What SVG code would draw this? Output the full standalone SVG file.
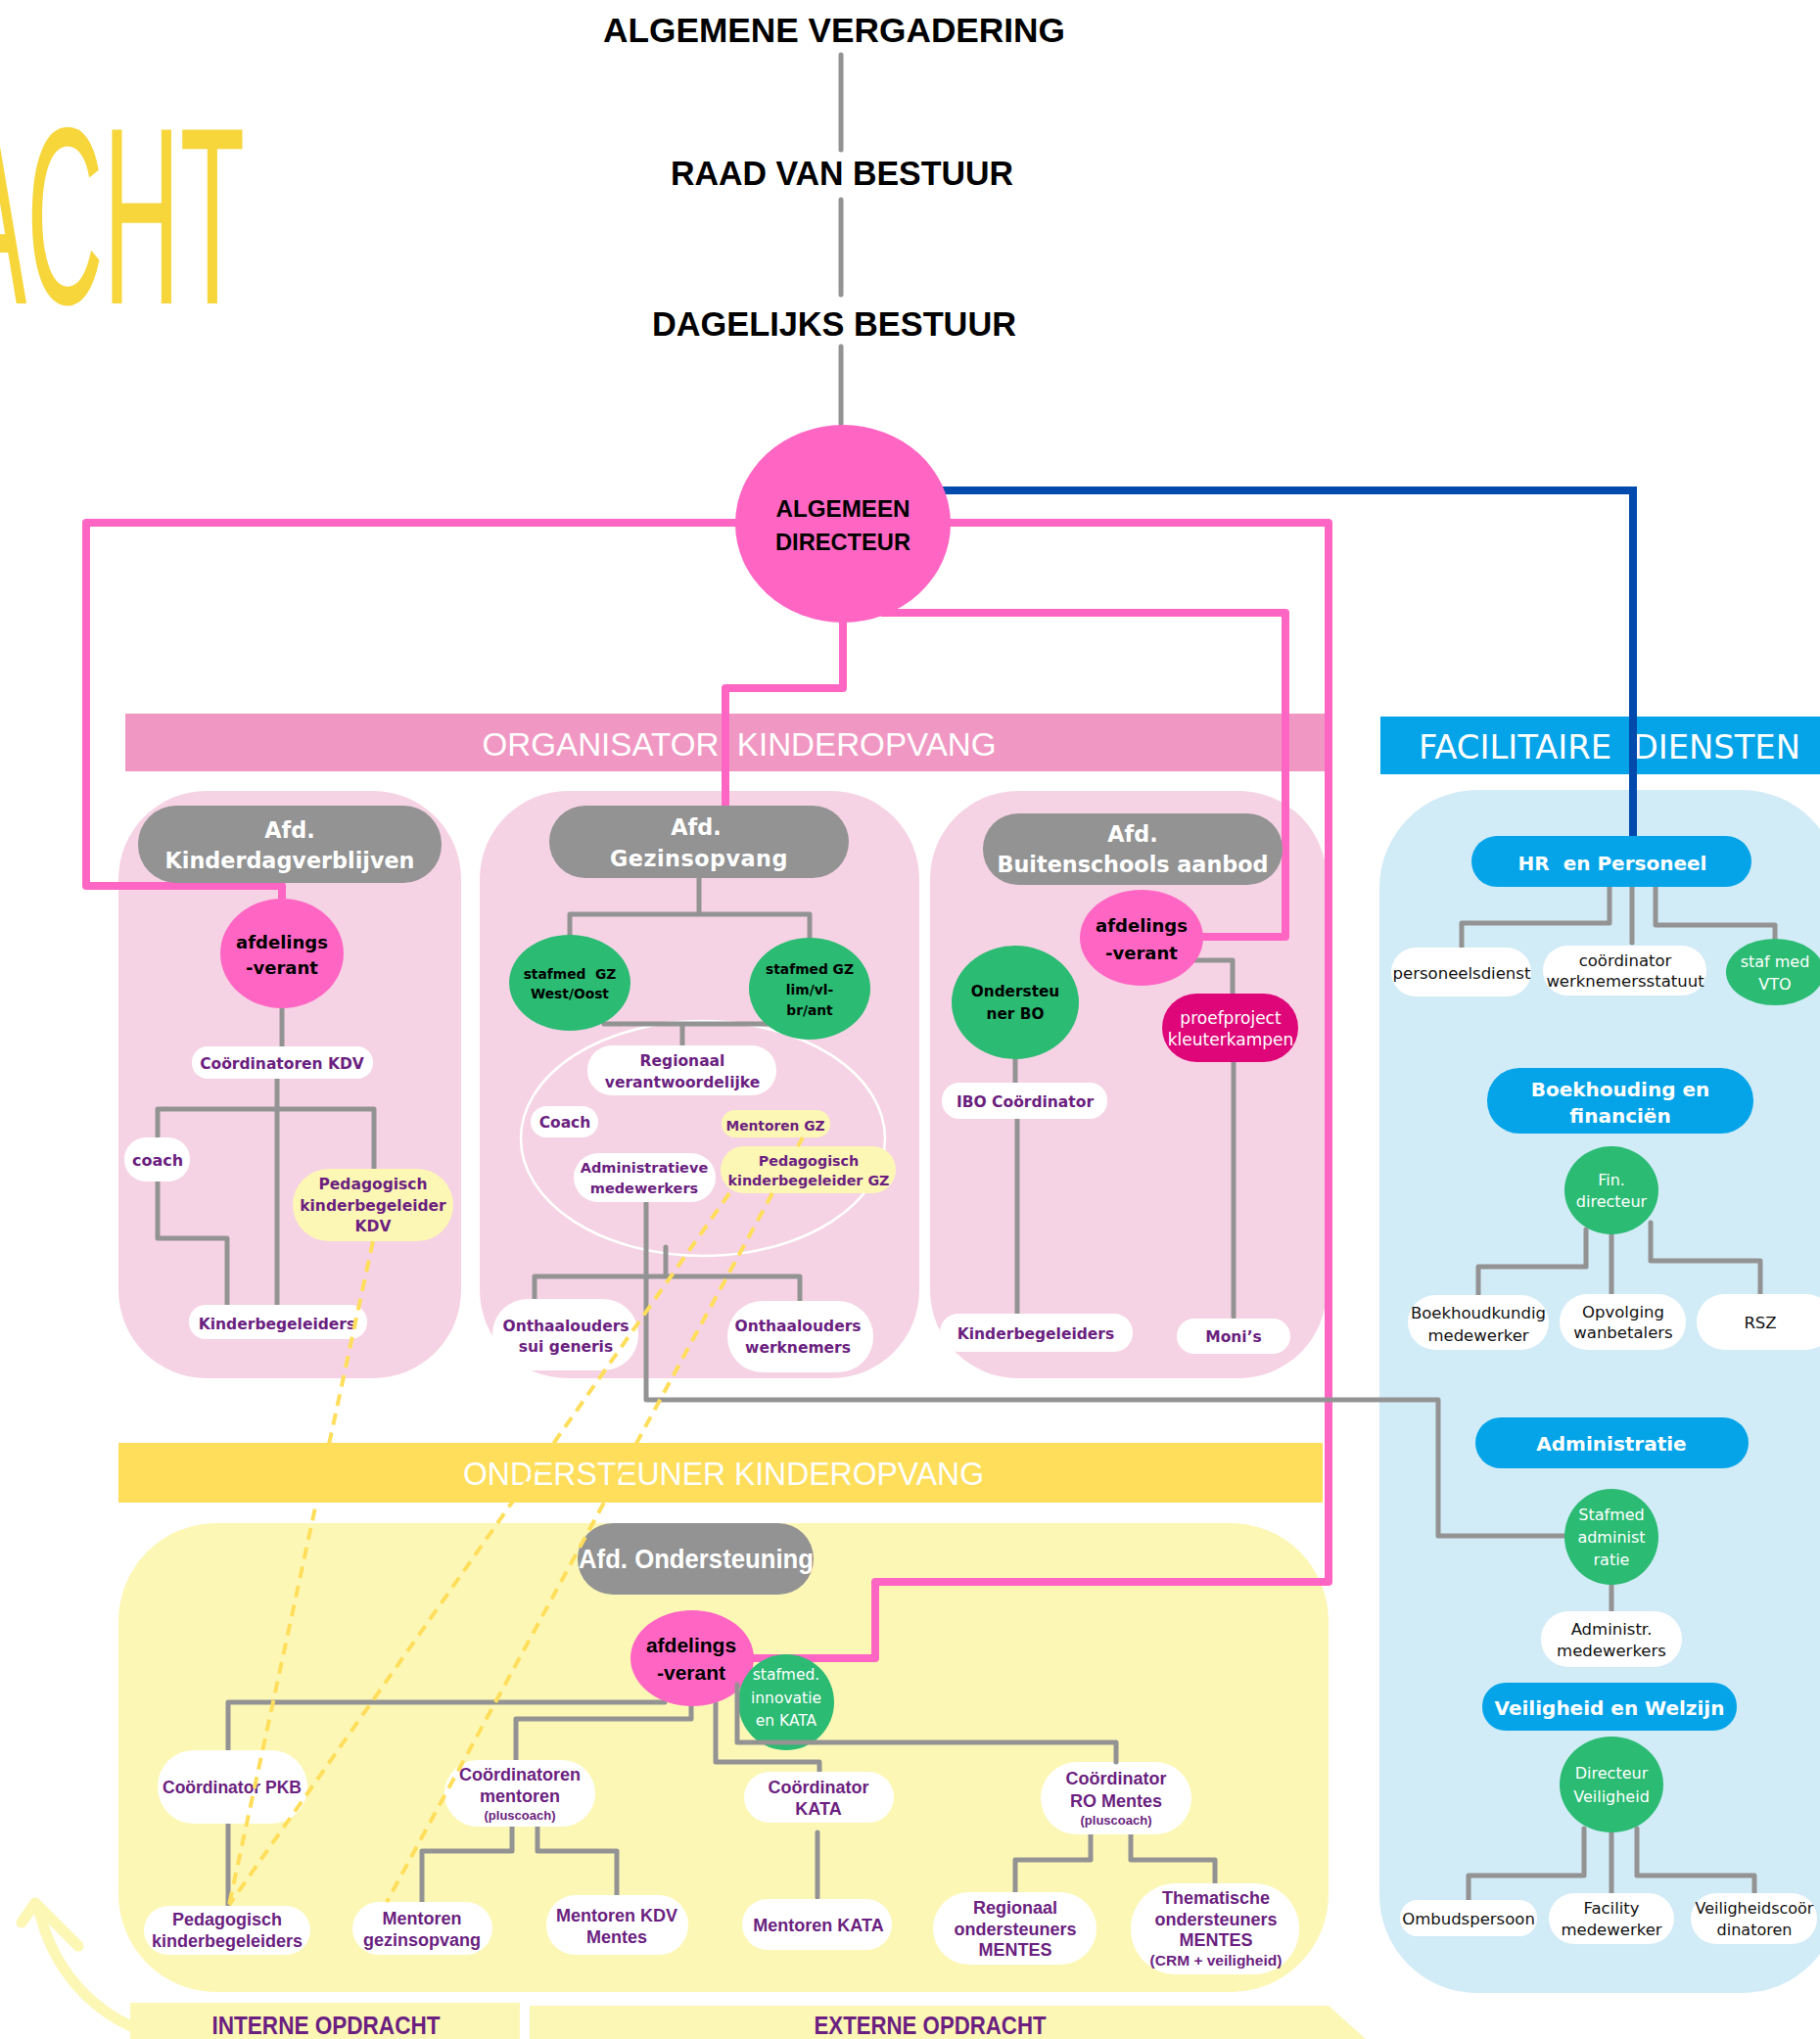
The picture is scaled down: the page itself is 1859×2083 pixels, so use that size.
<svg xmlns="http://www.w3.org/2000/svg" width="1859" height="2083" viewBox="0 0 1859 2083">
<style>
.p{font-family:"DejaVu Sans",sans-serif;font-weight:700;font-size:15.5px;fill:#6b1f80;text-anchor:middle}
.q{font-family:"Liberation Sans",Arial,sans-serif;font-weight:700;font-size:18px;fill:#6b1f80;text-anchor:middle}
.h{font-family:"DejaVu Sans",sans-serif;font-weight:700;font-size:22.3px;fill:#fff;text-anchor:middle}
.k{font-family:"DejaVu Sans",sans-serif;font-weight:700;font-size:18px;fill:#000;text-anchor:middle}
.n{font-family:"DejaVu Sans",sans-serif;font-size:16.5px;fill:#111;text-anchor:middle}
.w{font-family:"DejaVu Sans",sans-serif;font-size:16px;fill:#fff;text-anchor:middle}
.fb{font-family:"DejaVu Sans",sans-serif;font-weight:700;font-size:20px;fill:#fff;text-anchor:middle}
.t{font-family:"Liberation Sans",Arial,sans-serif;font-weight:700;font-size:35px;fill:#000;text-anchor:middle}
.bar{font-family:"Liberation Sans",Arial,sans-serif;font-size:33px;fill:#fff;text-anchor:middle}
.wp{fill:#fff}.yp{fill:#fdf7b6}.gr{fill:#2bbb73}.pk{fill:#ff66c4}.gy{fill:#939393}.bl{fill:#05a4e9}
.c{fill:none;stroke:#939393;stroke-width:5;stroke-linecap:round;stroke-linejoin:round}
.pl{fill:none;stroke:#ff66c4;stroke-width:8;stroke-linejoin:round}
.dl{fill:none;stroke:#ffde5b;stroke-width:4;stroke-dasharray:12 8}
</style>
<rect width="1859" height="2083" fill="#fff"/>
<!-- decorative -->
<text x="-45" y="310" font-family="Liberation Sans, Arial, sans-serif" font-size="258" fill="#f7d63c" textLength="295" lengthAdjust="spacingAndGlyphs">ACHT</text>
<!-- panels and bars -->
<g id="panels">
<rect x="128" y="729" width="1225" height="59" fill="#f098c3"/>
<rect x="1410" y="732" width="470" height="59" fill="#05a4e9"/>
<rect x="121" y="808" width="350" height="600" rx="90" fill="#f6d3e4"/>
<rect x="490" y="808" width="449" height="600" rx="90" fill="#f6d3e4"/>
<rect x="950" y="808" width="405" height="600" rx="90" fill="#f6d3e4"/>
<rect x="1409" y="807" width="470" height="1229" rx="100" fill="#d1ebf7"/>
<rect x="121" y="1474" width="1230" height="61" fill="#ffde5b"/>
<rect x="121" y="1556" width="1236" height="479" rx="100" fill="#fdf7b6"/>
<rect x="133" y="2046" width="398" height="37" fill="#fdf7b6"/>
<path d="M541 2049 H1357 L1395 2083 H541 Z" fill="#fdf7b6"/>
<ellipse cx="718" cy="1163" rx="186" ry="120" fill="none" stroke="#fff" stroke-width="2.5"/>
<text class="bar" x="755" y="772" textLength="525" lengthAdjust="spacingAndGlyphs" xml:space="preserve">ORGANISATOR  KINDEROPVANG</text>
<text x="1644" y="775" font-family="DejaVu Sans, sans-serif" font-size="33" fill="#fff" text-anchor="middle" textLength="390" lengthAdjust="spacingAndGlyphs" xml:space="preserve">FACILITAIRE  DIENSTEN</text>
<text class="bar" x="739" y="1517" style="font-size:34px" textLength="532" lengthAdjust="spacingAndGlyphs">ONDERSTEUNER KINDEROPVANG</text>
<text class="q" x="333" y="2078" style="font-size:25px" textLength="233" lengthAdjust="spacingAndGlyphs">INTERNE OPDRACHT</text>
<text class="q" x="950" y="2078" style="font-size:25px" textLength="237" lengthAdjust="spacingAndGlyphs">EXTERNE OPDRACHT</text>
<path d="M134 2070 C95 2052 55 2015 40 1952" fill="none" stroke="#fdf7b6" stroke-width="11" stroke-linecap="round"/>
<path d="M22 1964 L36 1944 L80 1988" fill="none" stroke="#fdf7b6" stroke-width="11" stroke-linecap="round" stroke-linejoin="round"/>
</g>
<!-- connectors -->
<g id="connectors">
<path class="c" d="M859 56 V153 M859 204 V301 M859 354 V433"/>
<path d="M900 501 H1668 V856" fill="none" stroke="#004aad" stroke-width="8"/>
<path class="pl" d="M288 918 V905 H88 V534 H1357 V1616 H894 V1694 H760"/>
<path class="pl" d="M861 620 V703 H741 V824"/>
<path class="pl" d="M900 626 H1313 V957 H1225"/>
<path class="c" d="M288 1031 V1069 M283 1102 V1333 M161 1162 V1133 H382 V1194 M161 1207 V1265 H232 V1333"/>
<path class="c" d="M714 897 V934 M582 957 V934 H827 V960 M617 1046 H787 M697 1046 V1068"/>
<path class="c" d="M680 1274 V1304 M546 1327 V1304 H817 V1329"/>
<path class="c" d="M660 1228 V1430 H1469 V1569 H1598"/>
<path class="c" d="M1037 1082 V1106 M1039 1143 V1341 M1220 981 H1259 V1015 M1260 1085 V1345"/>
<path class="c" d="M1644 906 V943 H1493 V968 M1667 906 V963 M1691 906 V945 H1813 V959"/>
<path class="c" d="M1620 1256 V1294 H1510 V1322 M1646 1261 V1321 M1686 1249 V1288 H1798 V1321"/>
<path class="c" d="M1646 1619 V1646"/>
<path class="c" d="M1618 1868 V1916 H1500 V1941 M1646 1872 V1934 M1672 1868 V1916 H1792 V1934"/>
<path class="c" d="M679 1739 H233 V1788 M706 1743 V1756 H527 V1798 M731 1739 V1800 H837 V1810"/>
<path class="c" d="M233 1863 V1946 M523 1866 V1891 H431 V1943 M549 1866 V1891 H630 V1936 M835 1872 V1938"/>
<path class="c" d="M1114 1874 V1900 H1037 V1933 M1155 1874 V1900 H1241 V1924"/>
</g>
<!-- top -->
<g id="n-av"><text class="t" x="852" y="43" textLength="472" lengthAdjust="spacingAndGlyphs">ALGEMENE VERGADERING</text></g>
<g id="n-rvb"><text class="t" x="860" y="189" textLength="350" lengthAdjust="spacingAndGlyphs">RAAD VAN BESTUUR</text></g>
<g id="n-db"><text class="t" x="852" y="343" textLength="372" lengthAdjust="spacingAndGlyphs">DAGELIJKS BESTUUR</text></g>
<g id="n-ad"><ellipse class="pk" cx="861" cy="535" rx="110" ry="101"/>
<text class="t" x="861" y="528" style="font-size:23px" textLength="137" lengthAdjust="spacingAndGlyphs">ALGEMEEN</text>
<text class="t" x="861" y="562" style="font-size:23px" textLength="138" lengthAdjust="spacingAndGlyphs">DIRECTEUR</text></g>
<!-- KDV -->
<g id="n-kdv"><rect class="gy" x="141" y="823" width="310" height="79" rx="39"/><text class="h" x="296" y="856">Afd.</text><text class="h" x="296" y="887">Kinderdagverblijven</text></g>
<g id="n-kdv-av"><ellipse class="pk" cx="288" cy="974" rx="63" ry="56"/><text class="k" x="288" y="969">afdelings</text><text class="k" x="288" y="995">-verant</text></g>
<g id="n-kdv-coord"><rect class="wp" x="196" y="1069" width="185" height="33" rx="16"/><text class="p" x="288" y="1092">Coördinatoren KDV</text></g>
<g id="n-kdv-coach"><rect class="wp" x="127" y="1162" width="67" height="45" rx="22"/><text class="p" x="161" y="1191" style="font-size:16px">coach</text></g>
<g id="n-kdv-ped"><rect class="yp" x="299" y="1194" width="164" height="74" rx="37"/><text class="p" x="381" y="1215">Pedagogisch</text><text class="p" x="381" y="1237">kinderbegeleider</text><text class="p" x="381" y="1258">KDV</text></g>
<g id="n-kdv-kb"><rect class="wp" x="193" y="1333" width="182" height="35" rx="17"/><text class="p" x="283" y="1358">Kinderbegeleiders</text></g>
<!-- GZ -->
<g id="n-gz"><rect class="gy" x="561" y="823" width="306" height="74" rx="37"/><text class="h" x="711" y="853">Afd.</text><text class="h" x="714" y="885" letter-spacing="0.5">Gezinsopvang</text></g>
<g id="n-gz-s1"><ellipse class="gr" cx="582" cy="1004" rx="62" ry="49"/><text class="k" x="582" y="1000" style="font-size:13.8px" xml:space="preserve">stafmed  GZ</text><text class="k" x="582" y="1020" style="font-size:13.8px">West/Oost</text></g>
<g id="n-gz-s2"><ellipse class="gr" cx="827" cy="1010" rx="62" ry="52"/><text class="k" x="827" y="995" style="font-size:13.8px">stafmed GZ</text><text class="k" x="827" y="1016" style="font-size:13.8px">lim/vl-</text><text class="k" x="827" y="1037" style="font-size:13.8px">br/ant</text></g>
<g id="n-gz-reg"><rect class="wp" x="600" y="1068" width="193" height="51" rx="25"/><text class="p" x="697" y="1089">Regionaal</text><text class="p" x="697" y="1111">verantwoordelijke</text></g>
<g id="n-gz-coach"><rect class="wp" x="542" y="1130" width="69" height="32" rx="16"/><text class="p" x="577" y="1152">Coach</text></g>
<g id="n-gz-ment"><rect class="yp" x="737" y="1134" width="111" height="28" rx="14"/><text class="p" x="792" y="1155" style="font-size:13.8px">Mentoren GZ</text></g>
<g id="n-gz-adm"><rect class="wp" x="586" y="1178" width="145" height="50" rx="25"/><text class="p" x="658" y="1198" style="font-size:14.5px">Administratieve</text><text class="p" x="658" y="1219" style="font-size:14.5px">medewerkers</text></g>
<g id="n-gz-ped"><rect class="yp" x="736" y="1171" width="179" height="48" rx="24"/><text class="p" x="826" y="1191" style="font-size:14.3px">Pedagogisch</text><text class="p" x="826" y="1211" style="font-size:14.3px">kinderbegeleider GZ</text></g>
<g id="n-gz-sui"><rect class="wp" x="503" y="1327" width="149" height="73" rx="36"/><text class="p" x="578" y="1360">Onthaalouders</text><text class="p" x="578" y="1381">sui generis</text></g>
<g id="n-gz-wn"><rect class="wp" x="743" y="1329" width="149" height="73" rx="36"/><text class="p" x="815" y="1360">Onthaalouders</text><text class="p" x="815" y="1382">werknemers</text></g>
<!-- BO -->
<g id="n-bo"><rect class="gy" x="1004" y="831" width="306" height="73" rx="36"/><text class="h" x="1157" y="860">Afd.</text><text class="h" x="1157" y="891">Buitenschools aanbod</text></g>
<g id="n-bo-av"><ellipse class="pk" cx="1166" cy="958" rx="63" ry="49"/><text class="k" x="1166" y="952">afdelings</text><text class="k" x="1166" y="980">-verant</text></g>
<g id="n-bo-ond"><ellipse class="gr" cx="1037" cy="1024" rx="65" ry="58"/><text class="k" x="1037" y="1018" style="font-size:15.3px">Ondersteu</text><text class="k" x="1037" y="1041" style="font-size:15.3px">ner BO</text></g>
<g id="n-bo-ibo"><rect class="wp" x="962" y="1106" width="169" height="37" rx="18"/><text class="p" x="1047" y="1131">IBO Coördinator</text></g>
<g id="n-bo-kb"><rect class="wp" x="960" y="1342" width="197" height="39" rx="19"/><text class="p" x="1058" y="1368">Kinderbegeleiders</text></g>
<g id="n-bo-pp"><rect x="1187" y="1015" width="139" height="70" rx="35" fill="#de0679"/><text class="w" x="1257" y="1046" style="font-size:17px">proefproject</text><text class="w" x="1257" y="1068" style="font-size:17px">kleuterkampen</text></g>
<g id="n-bo-moni"><rect class="wp" x="1202" y="1347" width="116" height="36" rx="18"/><text class="p" x="1260" y="1371">Moni’s</text></g>
<!-- Facilitaire -->
<g id="n-hr"><rect class="bl" x="1503" y="854" width="286" height="52" rx="26"/><text class="fb" x="1647" y="889" xml:space="preserve">HR  en Personeel</text></g>
<g id="n-pd"><rect class="wp" x="1421" y="968" width="143" height="50" rx="25"/><text class="n" x="1493" y="1000">personeelsdienst</text></g>
<g id="n-cw"><rect class="wp" x="1576" y="966" width="167" height="51" rx="25"/><text class="n" x="1660" y="987">coördinator</text><text class="n" x="1660" y="1008">werknemersstatuut</text></g>
<g id="n-vto"><ellipse class="gr" cx="1813" cy="993" rx="50" ry="34"/><text class="w" x="1813" y="988">staf med</text><text class="w" x="1813" y="1011">VTO</text></g>
<g id="n-bf"><rect class="bl" x="1519" y="1091" width="272" height="67" rx="33"/><text class="fb" x="1655" y="1120">Boekhouding en</text><text class="fb" x="1655" y="1147">financiën</text></g>
<g id="n-fd"><ellipse class="gr" cx="1646" cy="1216" rx="48" ry="45"/><text class="w" x="1646" y="1211">Fin.</text><text class="w" x="1646" y="1233">directeur</text></g>
<g id="n-bm"><rect class="wp" x="1438" y="1323" width="144" height="56" rx="28"/><text class="n" x="1510" y="1347">Boekhoudkundig</text><text class="n" x="1510" y="1370">medewerker</text></g>
<g id="n-ow"><rect class="wp" x="1593" y="1322" width="129" height="57" rx="28"/><text class="n" x="1658" y="1346">Opvolging</text><text class="n" x="1658" y="1367">wanbetalers</text></g>
<g id="n-rsz"><rect class="wp" x="1733" y="1322" width="140" height="57" rx="28"/><text class="n" x="1798" y="1357">RSZ</text></g>
<g id="n-adm"><rect class="bl" x="1507" y="1448" width="279" height="52" rx="26"/><text class="fb" x="1646" y="1482">Administratie</text></g>
<g id="n-sa"><ellipse class="gr" cx="1646" cy="1570" rx="48" ry="49"/><text class="w" x="1646" y="1553">Stafmed</text><text class="w" x="1646" y="1576">administ</text><text class="w" x="1646" y="1599">ratie</text></g>
<g id="n-am"><rect class="wp" x="1574" y="1646" width="144" height="57" rx="28"/><text class="n" x="1646" y="1670">Administr.</text><text class="n" x="1646" y="1692">medewerkers</text></g>
<g id="n-vw"><rect class="bl" x="1514" y="1719" width="260" height="49" rx="24"/><text class="fb" x="1644" y="1752">Veiligheid en Welzijn</text></g>
<g id="n-dv"><ellipse class="gr" cx="1646" cy="1823" rx="53" ry="49"/><text class="w" x="1646" y="1817">Directeur</text><text class="w" x="1646" y="1841">Veiligheid</text></g>
<g id="n-omb"><rect class="wp" x="1430" y="1941" width="140" height="37" rx="18"/><text class="n" x="1500" y="1966">Ombudspersoon</text></g>
<g id="n-fm"><rect class="wp" x="1582" y="1934" width="128" height="52" rx="26"/><text class="n" x="1646" y="1955">Facility</text><text class="n" x="1646" y="1977">medewerker</text></g>
<g id="n-vc"><rect class="wp" x="1727" y="1934" width="129" height="52" rx="26"/><text class="n" x="1792" y="1955" style="font-size:16px">Veiligheidscoör</text><text class="n" x="1792" y="1977" style="font-size:16px">dinatoren</text></g>
<!-- Ondersteuning -->
<g id="n-ond"><rect class="gy" x="590" y="1556" width="241" height="73" rx="36"/><text class="q" x="711" y="1602" style="font-size:27px;fill:#fff" textLength="240" lengthAdjust="spacingAndGlyphs">Afd. Ondersteuning</text></g>
<g id="n-ond-av"><ellipse class="pk" cx="707" cy="1694" rx="63" ry="49"/><text class="q" x="706" y="1688" style="font-size:21px;fill:#000">afdelings</text><text class="q" x="706" y="1716" style="font-size:21px;fill:#000">-verant</text></g>
<g id="n-ond-si"><ellipse class="gr" cx="803" cy="1739" rx="49" ry="49"/><text class="w" x="803" y="1716" style="font-size:15.5px">stafmed.</text><text class="w" x="803" y="1740" style="font-size:15.5px">innovatie</text><text class="w" x="803" y="1763" style="font-size:15.5px">en KATA</text></g>
<g id="n-pkb"><rect class="wp" x="161" y="1788" width="153" height="75" rx="37"/><text class="q" x="237" y="1832" style="font-size:17.5px">Coördinator PKB</text></g>
<g id="n-pkbg"><rect class="wp" x="147" y="1947" width="170" height="50" rx="25"/><text class="q" x="232" y="1967">Pedagogisch</text><text class="q" x="232" y="1989">kinderbegeleiders</text></g>
<g id="n-cm"><rect class="wp" x="454" y="1798" width="154" height="68" rx="34"/><text class="q" x="531" y="1819">Coördinatoren</text><text class="q" x="531" y="1841">mentoren</text><text class="q" x="531" y="1859" style="font-size:13px">(pluscoach)</text></g>
<g id="n-mg"><rect class="wp" x="360" y="1943" width="143" height="54" rx="27"/><text class="q" x="431" y="1966">Mentoren</text><text class="q" x="431" y="1988">gezinsopvang</text></g>
<g id="n-mk"><rect class="wp" x="558" y="1936" width="145" height="61" rx="30"/><text class="q" x="630" y="1963">Mentoren KDV</text><text class="q" x="630" y="1985">Mentes</text></g>
<g id="n-ck"><rect class="wp" x="760" y="1810" width="153" height="52" rx="26"/><text class="q" x="836" y="1832">Coördinator</text><text class="q" x="836" y="1854">KATA</text></g>
<g id="n-mka"><rect class="wp" x="758" y="1940" width="153" height="52" rx="26"/><text class="q" x="836" y="1973">Mentoren KATA</text></g>
<g id="n-cro"><rect class="wp" x="1063" y="1800" width="154" height="74" rx="37"/><text class="q" x="1140" y="1823">Coördinator</text><text class="q" x="1140" y="1846">RO Mentes</text><text class="q" x="1140" y="1864" style="font-size:13px">(pluscoach)</text></g>
<g id="n-rom"><rect class="wp" x="953" y="1933" width="167" height="74" rx="37"/><text class="q" x="1037" y="1955">Regionaal</text><text class="q" x="1037" y="1977">ondersteuners</text><text class="q" x="1037" y="1998">MENTES</text></g>
<g id="n-tom"><rect class="wp" x="1155" y="1924" width="172" height="93" rx="46"/><text class="q" x="1242" y="1945">Thematische</text><text class="q" x="1242" y="1967">ondersteuners</text><text class="q" x="1242" y="1988">MENTES</text><text class="q" x="1242" y="2008" style="font-size:15.5px">(CRM + veiligheid)</text></g>
<!-- connectors drawn over nodes -->
<g id="connectors-over">
<path class="c" d="M753 1721 V1780 H1140 V1800"/>
<path class="dl" d="M381 1268 L234 1946"/>
<path class="dl" d="M745 1219 L234 1946"/>
<path class="dl" d="M820 1162 L815 1171 M789 1219 L395 1943"/>
</g>
</svg>
